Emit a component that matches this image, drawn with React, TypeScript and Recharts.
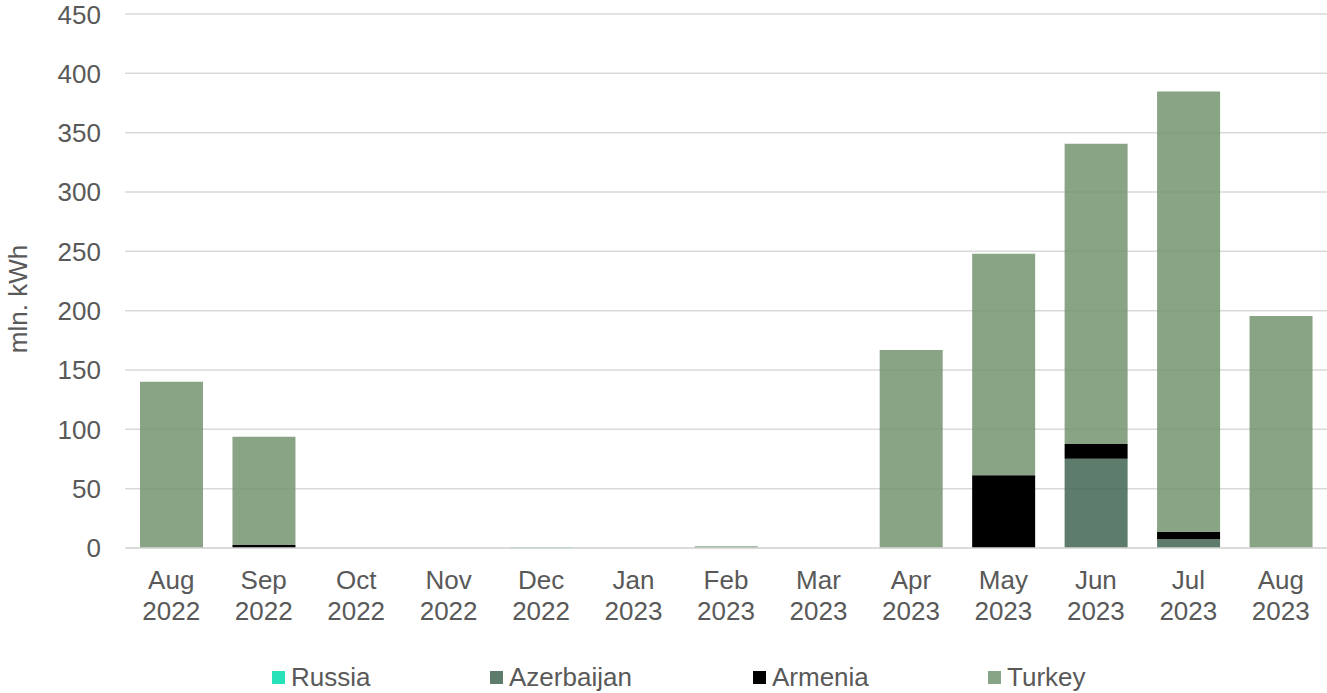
import { BarChart, Bar, XAxis, YAxis, CartesianGrid, Legend, Label } from 'recharts';

const months = [
  'Aug 2022', 'Sep 2022', 'Oct 2022', 'Nov 2022', 'Dec 2022', 'Jan 2023', 'Feb 2023',
  'Mar 2023', 'Apr 2023', 'May 2023', 'Jun 2023', 'Jul 2023', 'Aug 2023',
];
const russia = [0, 0, 0, 0, 0.6, 0, 0, 0, 0, 0, 0, 0, 0];
const azerbaijan = [0, 0, 0, 0, 0, 0, 0, 0, 0, 0, 75.3, 7.3, 0];
const armenia = [0, 2.5, 0, 0, 0, 0, 0, 0, 0, 61.3, 12.3, 6.4, 0];
const turkey = [140, 91.3, 0, 0, 0.3, 0, 1.5, 0, 166.9, 186.7, 253.1, 370.9, 195.5];
const yTicks = [0, 50, 100, 150, 200, 250, 300, 350, 400, 450];

const data = months.map((month, i) => ({
  month,
  Russia: russia[i],
  Azerbaijan: azerbaijan[i],
  Armenia: armenia[i],
  Turkey: turkey[i],
}));

const FONT = '"Liberation Sans", Arial, sans-serif';
const TEXT = '#595959';
const GRID = '#D9D9D9';

const series = [
  { key: 'Russia', color: '#27E1B8', opacity: 1, legend: '#27E1B8' },
  { key: 'Azerbaijan', color: '#426552', opacity: 0.85, legend: '#5E7C6C' },
  { key: 'Armenia', color: '#000000', opacity: 1, legend: '#000000' },
  { key: 'Turkey', color: '#73946F', opacity: 0.85, legend: '#88A486' },
];

// left edge of each legend entry
const legendLeft = [272, 490, 753, 988];

function MonthTick(props: any) {
  const { x, y, payload } = props;
  const [m, yr] = String(payload.value).split(' ');
  return (
    <text x={x} y={y} textAnchor="middle" fill={TEXT} fontSize={26} fontFamily={FONT}>
      <tspan x={x} y={y + 33}>{m}</tspan>
      <tspan x={x} y={y + 64}>{yr}</tspan>
    </text>
  );
}

function LegendBox() {
  return (
    <div style={{ position: 'relative', width: 1327, height: 32 }}>
      {series.map((s, i) => (
        <div
          key={s.key}
          style={{
            position: 'absolute',
            left: legendLeft[i],
            top: 0,
            height: 32,
            display: 'flex',
            alignItems: 'center',
            fontFamily: FONT,
            fontSize: 26,
            color: TEXT,
            whiteSpace: 'nowrap',
          }}
        >
          <span style={{ display: 'inline-block', width: 13, height: 13, background: s.legend, marginRight: 6 }} />
          {s.key}
        </div>
      ))}
    </div>
  );
}

export default function App() {
  return (
    <div style={{ position: 'absolute', left: 0, top: 0 }}>
      <BarChart
        width={1327}
        height={693}
        data={data}
        margin={{ top: 14, right: 0, left: 0, bottom: 0 }}
      >
        <CartesianGrid vertical={false} stroke={GRID} strokeWidth={1.5} />
        <XAxis
          dataKey="month"
          height={113}
          interval={0}
          tickLine={false}
          axisLine={{ stroke: GRID, strokeWidth: 1.5 }}
          tickMargin={2}
          tick={<MonthTick />}
        />
        <YAxis
          width={125}
          domain={[0, 450]}
          ticks={yTicks}
          axisLine={false}
          tickLine={false}
          tickMargin={18}
          tick={{ fill: TEXT, fontSize: 26, fontFamily: FONT }}
        >
          <Label
            content={() => (
              <text
                x={27}
                y={299}
                transform="rotate(-90 27 299)"
                textAnchor="middle"
                fill={TEXT}
                fontSize={26}
                fontFamily={FONT}
              >
                mln. kWh
              </text>
            )}
          />
        </YAxis>
        <Legend verticalAlign="bottom" height={32} wrapperStyle={{ left: 0, width: 1327 }} content={<LegendBox />} />
        {series.map((s) => (
          <Bar
            key={s.key}
            dataKey={s.key}
            stackId="a"
            fill={s.color}
            fillOpacity={s.opacity}
            barSize={63}
            isAnimationActive={false}
          />
        ))}
      </BarChart>
    </div>
  );
}
